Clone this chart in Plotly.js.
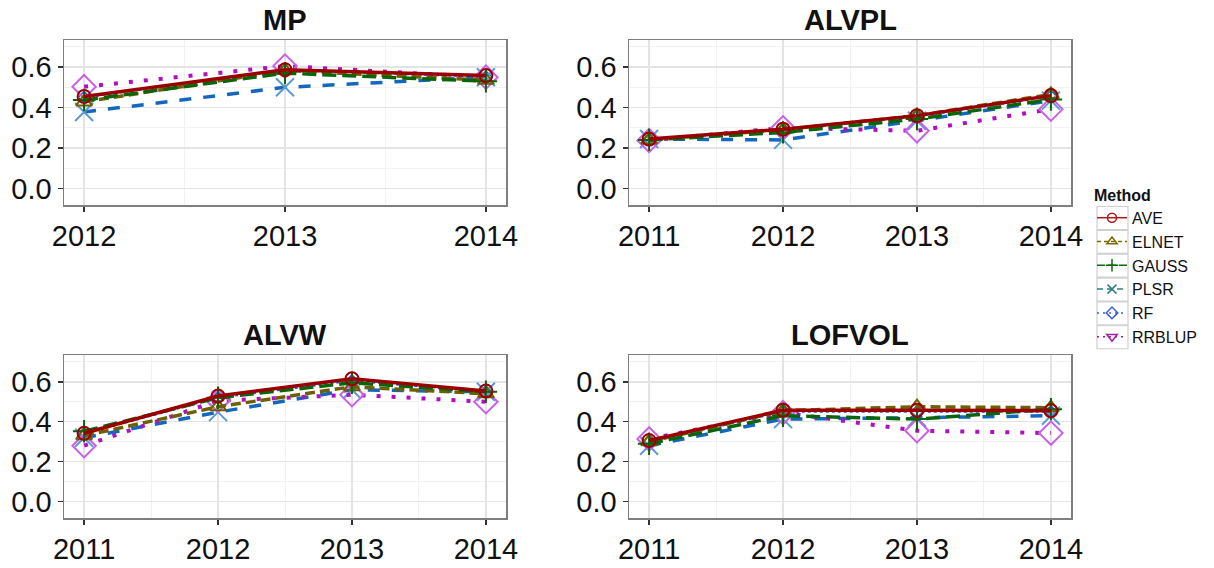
<!DOCTYPE html>
<html>
<head>
<meta charset="utf-8">
<script src="https://cdn.plot.ly/plotly-3.0.1.min.js"></script>
<style>html,body{margin:0;padding:0;background:#fff;}#chart{width:1214px;height:568px;}</style>
</head>
<body>
<div id="chart"></div>
<script>
// ---------- DATA ----------
const panelTitles = ['MP', 'ALVPL', 'ALVW', 'LOFVOL'];
const methods = ['AVE', 'ELNET', 'GAUSS', 'PLSR', 'RF', 'RRBLUP'];
const yearsMP = [2012, 2013, 2014];
const yearsAll = [2011, 2012, 2013, 2014];
const yTickVals = [0.0, 0.2, 0.4, 0.6];
const yTickText = ['0.0', '0.2', '0.4', '0.6'];

const MP_AVE = [0.455, 0.587, 0.558];
const MP_ELNET = [0.428, 0.583, 0.535];
const MP_GAUSS = [0.437, 0.570, 0.530];
const MP_PLSR = [0.378, 0.500, 0.550];
const MP_RF = [0.450, 0.585, 0.552];
const MP_RRBLUP = [0.503, 0.605, 0.550];

const ALVPL_AVE = [0.244, 0.293, 0.360, 0.459];
const ALVPL_ELNET = [0.240, 0.290, 0.360, 0.465];
const ALVPL_GAUSS = [0.240, 0.277, 0.343, 0.440];
const ALVPL_PLSR = [0.244, 0.240, 0.335, 0.434];
const ALVPL_RF = [0.242, 0.290, 0.355, 0.455];
const ALVPL_RRBLUP = [0.237, 0.300, 0.285, 0.392];

const ALVW_AVE = [0.342, 0.529, 0.615, 0.554];
const ALVW_ELNET = [0.330, 0.475, 0.575, 0.540];
const ALVW_GAUSS = [0.352, 0.520, 0.595, 0.550];
const ALVW_PLSR = [0.320, 0.448, 0.560, 0.550];
const ALVW_RF = [0.340, 0.520, 0.605, 0.550];
const ALVW_RRBLUP = [0.280, 0.505, 0.535, 0.500];

const LOFVOL_AVE = [0.306, 0.458, 0.458, 0.455];
const LOFVOL_ELNET = [0.300, 0.455, 0.475, 0.470];
const LOFVOL_GAUSS = [0.290, 0.430, 0.413, 0.463];
const LOFVOL_PLSR = [0.280, 0.413, 0.420, 0.430];
const LOFVOL_RF = [0.300, 0.450, 0.450, 0.450];
const LOFVOL_RRBLUP = [0.314, 0.446, 0.355, 0.343];

// ---------- STYLES ----------
const plotStyle = {
  AVE:    {line: {color: '#9B0000', width: 3.5, dash: 'solid'}, marker: {symbol: 'circle-open', size: 13, color: '#9B0000', line: {width: 2}}},
  ELNET:  {line: {color: '#6E6000', width: 3.5, dash: '10px,5px'}, marker: {symbol: 'triangle-up-open', size: 14, color: '#6E6000', line: {width: 2}}},
  GAUSS:  {line: {color: '#0A640A', width: 3.5, dash: '14px,6px'}, marker: {symbol: 'cross-thin-open', size: 16, color: '#0A640A', line: {width: 2}}},
  PLSR:   {line: {color: '#1466BE', width: 3.5, dash: '12px,12px'}, marker: {symbol: 'x-thin-open', size: 18, color: '#5B9BD5', line: {width: 2}}},
  RF:     {line: {color: '#3050E0', width: 2, dash: 'dot'}, marker: {symbol: 'diamond-open', size: 9, color: '#3050E0', line: {width: 1.5}}},
  RRBLUP: {line: {color: '#B010C0', width: 4, dash: '4px,11px'}, marker: {symbol: 'diamond-open', size: 18, color: '#C860E8', line: {width: 2}}}
};
const legendStyle = {
  AVE:    {color: '#B01818', dash: 'solid', symbol: 'circle-open'},
  ELNET:  {color: '#7F6A00', dash: '4px,3px', symbol: 'triangle-up-open'},
  GAUSS:  {color: '#0B6B0B', dash: '8px,3px', symbol: 'cross-thin-open'},
  PLSR:   {color: '#2F7F7F', dash: '6px,4px', symbol: 'x-thin-open'},
  RF:     {color: '#3B5FE0', dash: '2px,4px', symbol: 'diamond-open'},
  RRBLUP: {color: '#A020A0', dash: '2px,4px', symbol: 'triangle-down-open'}
};
const drawOrder = ['RF', 'PLSR', 'RRBLUP', 'ELNET', 'GAUSS', 'AVE'];

const panelData = [
  {x: yearsMP, s: {AVE: MP_AVE, ELNET: MP_ELNET, GAUSS: MP_GAUSS, PLSR: MP_PLSR, RF: MP_RF, RRBLUP: MP_RRBLUP}},
  {x: yearsAll, s: {AVE: ALVPL_AVE, ELNET: ALVPL_ELNET, GAUSS: ALVPL_GAUSS, PLSR: ALVPL_PLSR, RF: ALVPL_RF, RRBLUP: ALVPL_RRBLUP}},
  {x: yearsAll, s: {AVE: ALVW_AVE, ELNET: ALVW_ELNET, GAUSS: ALVW_GAUSS, PLSR: ALVW_PLSR, RF: ALVW_RF, RRBLUP: ALVW_RRBLUP}},
  {x: yearsAll, s: {AVE: LOFVOL_AVE, ELNET: LOFVOL_ELNET, GAUSS: LOFVOL_GAUSS, PLSR: LOFVOL_PLSR, RF: LOFVOL_RF, RRBLUP: LOFVOL_RRBLUP}}
];

const W = 1214, H = 568;
// panel pixel boxes [left, right, top, bottom]
const boxes = [[64, 506, 40, 205], [629, 1071, 40, 205], [64, 506, 355, 518], [629, 1071, 355, 518]];

const traces = [];
panelData.forEach((p, i) => {
  const ax = i === 0 ? '' : String(i + 1);
  drawOrder.forEach(m => {
    const st = plotStyle[m];
    traces.push({
      type: 'scatter', mode: 'lines+markers', name: m,
      x: p.x, y: p.s[m], xaxis: 'x' + ax, yaxis: 'y' + ax,
      line: st.line, marker: st.marker, showlegend: false, hoverinfo: 'x+y+name'
    });
  });
});
methods.forEach(m => {
  const ls = legendStyle[m];
  traces.push({
    type: 'scatter', mode: 'lines+markers', name: m, x: [null], y: [null],
    line: {color: ls.color, width: 1.5, dash: ls.dash},
    marker: {symbol: ls.symbol, size: 9, color: ls.color, line: {width: 1.5}},
    showlegend: true
  });
});

const FONT = 'Liberation Sans, Arial, sans-serif';
const layout = {
  width: W, height: H,
  margin: {l: 0, r: 0, t: 0, b: 0},
  paper_bgcolor: '#ffffff', plot_bgcolor: '#ffffff',
  font: {family: FONT, color: '#111'},
  showlegend: true,
  legend: {
    x: 1092 / W, y: 1 - 180 / H, xanchor: 'left', yanchor: 'top',
    font: {family: FONT, size: 16, color: '#111'},
    title: {text: '<b>Method</b>', font: {family: FONT, size: 16, color: '#111'}},
    bgcolor: 'rgba(0,0,0,0)', borderwidth: 0, tracegroupgap: 0
  },
  annotations: [],
  shapes: []
};

// legend key boxes (decoration)
methods.forEach((m, i) => {
  const cy = 218 + 23.85 * i;
  layout.shapes.push({
    type: 'rect', xref: 'paper', yref: 'paper', layer: 'below',
    x0: 1097 / W, x1: 1128 / W, y0: 1 - (cy + 11.5) / H, y1: 1 - (cy - 11.5) / H,
    line: {color: '#CFCFCF', width: 1.2}, fillcolor: '#FFFFFF'
  });
});

boxes.forEach((b, i) => {
  const ax = i === 0 ? '' : String(i + 1);
  const xr = i === 0 ? [yearsMP[0] - 0.1, yearsMP[yearsMP.length - 1] + 0.1]
                     : [yearsAll[0] - 0.15, yearsAll[yearsAll.length - 1] + 0.15];
  layout['xaxis' + ax] = {
    domain: [b[0] / W, b[1] / W], anchor: 'y' + ax, range: xr,
    tickmode: 'array', tickvals: panelData[i].x, ticktext: panelData[i].x.map(String),
    ticks: 'outside', ticklen: 5, tickwidth: 1.5, tickcolor: '#333',
    tickfont: {family: FONT, size: 29, color: '#111'},
    showgrid: true, gridcolor: '#E4E4E4', gridwidth: 1.5,
    minor: {dtick: 0.5, tick0: 2011.5, showgrid: true, gridcolor: '#F2F2F2', gridwidth: 1},
    showline: true, mirror: true, linecolor: '#7F7F7F', linewidth: 1.5,
    zeroline: false, fixedrange: true
  };
  layout['yaxis' + ax] = {
    domain: [1 - b[3] / H, 1 - b[2] / H], anchor: 'x' + ax, range: [-0.082, 0.734],
    tickmode: 'array', tickvals: yTickVals, ticktext: yTickText,
    ticks: 'outside', ticklen: 5, tickwidth: 1.5, tickcolor: '#333',
    tickfont: {family: FONT, size: 29, color: '#111'},
    showgrid: true, gridcolor: '#E4E4E4', gridwidth: 1.5,
    minor: {dtick: 0.2, tick0: 0.1, showgrid: true, gridcolor: '#F2F2F2', gridwidth: 1},
    showline: true, mirror: true, linecolor: '#7F7F7F', linewidth: 1.5,
    zeroline: false, fixedrange: true
  };
  layout.annotations.push({
    text: '<b>' + panelTitles[i] + '</b>', xref: 'paper', yref: 'paper',
    x: (b[0] + b[1]) / 2 / W, y: 1 - (b[2] - 20) / H, xanchor: 'center', yanchor: 'middle',
    showarrow: false, font: {family: FONT, size: 29, color: '#111'}
  });
});

Plotly.newPlot('chart', traces, layout, {displayModeBar: false, staticPlot: true});
</script>
</body>
</html>
